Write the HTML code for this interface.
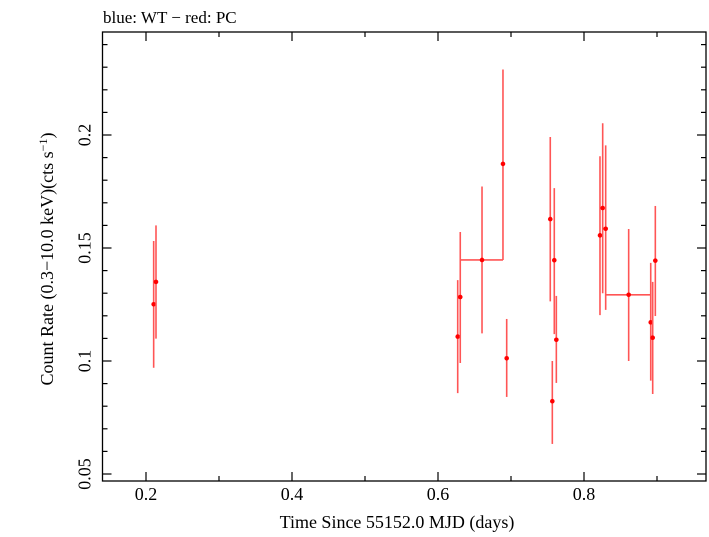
<!DOCTYPE html>
<html><head><meta charset="utf-8"><style>
body{margin:0;background:#fff;width:709px;height:532px;overflow:hidden}
text{font-family:"Liberation Serif",serif;fill:#000}
</style></head><body>
<svg width="709" height="532">
<text x="103" y="23" font-size="17">blue: WT − red: PC</text>
<g id="axes"></g>
<g id="marks"></g>
<text x="397" y="528" font-size="18" text-anchor="middle">Time Since 55152.0 MJD (days)</text>
<text transform="translate(53,259) rotate(-90)" font-size="18" text-anchor="middle">Count Rate (0.3−10.0 keV)(cts s<tspan dy="-6" font-size="12">−1</tspan><tspan dy="6">)</tspan></text>
</svg>
<script>
const times=[0.2105,0.2137,0.627,0.6305,0.6603,0.689,0.6941,0.7538,0.7566,0.7593,0.7621,0.8219,0.8256,0.8297,0.8612,0.8914,0.8941,0.8977];
const rates=[0.1251,0.1350,0.1108,0.1283,0.1447,0.1872,0.1012,0.1628,0.0822,0.1446,0.1094,0.1556,0.1677,0.1585,0.1293,0.1171,0.1103,0.1444];
const rateLo=[0.0970,0.1099,0.0858,0.0991,0.1122,0.1447,0.0841,0.1264,0.0633,0.1119,0.0903,0.1203,0.1300,0.1226,0.1000,0.0913,0.0854,0.1199];
const rateHi=[0.1531,0.1600,0.1358,0.1571,0.1772,0.2290,0.1186,0.1991,0.1000,0.1765,0.1288,0.1906,0.2052,0.1954,0.1584,0.1434,0.1350,0.1686];
const timeLo=[0.2105,0.2137,0.627,0.6305,0.6305,0.689,0.6941,0.7538,0.7566,0.7593,0.7621,0.8219,0.8256,0.8297,0.8297,0.8914,0.8941,0.8977];
const timeHi=[0.2105,0.2137,0.627,0.6305,0.6890,0.689,0.6941,0.7538,0.7566,0.7593,0.7621,0.8219,0.8256,0.8297,0.8914,0.8914,0.8941,0.8977];
const xTicks=[0.2,0.4,0.6,0.8];
const yTicks=[0.05,0.1,0.15,0.2];
const L=102.5,R=706,T=32,B=481;
const X=t=>t*730;
const Y=v=>361-(v-0.1)*2260;
const NS="http://www.w3.org/2000/svg";
function mk(tag,at,parent){const e=document.createElementNS(NS,tag);for(const k in at)e.setAttribute(k,at[k]);parent.appendChild(e);return e;}
const ax=document.getElementById('axes');
const frame=mk('rect',{x:L,y:T,width:R-L,height:B-T,fill:'none',stroke:'#000','stroke-width':1.3},ax);


for(let i=2;i<=9;i++){const t=i/10,x=X(t);if(x<L||x>R)continue;const len=(i%2===0)?9:5;
 mk('line',{x1:x,x2:x,y1:B,y2:B-len,stroke:'#000','stroke-width':1.2},ax);
 mk('line',{x1:x,x2:x,y1:T,y2:T+len,stroke:'#000','stroke-width':1.2},ax);}
xTicks.forEach(t=>{const e=mk('text',{x:X(t),y:B+19,'font-size':18,'text-anchor':'middle'},ax);e.textContent=t.toFixed(1);
 
 });
for(let i=5;i<=25;i++){const v=i/100,y=Y(v);if(y<T||y>B)continue;const len=(i%5===0)?9:5;
 mk('line',{x1:L,x2:L+len,y1:y,y2:y,stroke:'#000','stroke-width':1.2},ax);
 mk('line',{x1:R,x2:R-len,y1:y,y2:y,stroke:'#000','stroke-width':1.2},ax);}
yTicks.forEach(v=>{const y=Y(v);const e=mk('text',{transform:`translate(${L-12},${y}) rotate(-90)`,'font-size':18,'text-anchor':'middle'},ax);e.textContent=String(v);
 
 });
const mg=document.getElementById('marks');
times.forEach((t,i)=>{const g=mk('g',{},mg);
 
 
 mk('line',{x1:X(t),x2:X(t),y1:Y(rateLo[i]),y2:Y(rateHi[i]),stroke:'#f55','stroke-width':1.6},g);
 if(timeHi[i]>timeLo[i])mk('line',{x1:X(timeLo[i]),x2:X(timeHi[i]),y1:Y(rates[i]),y2:Y(rates[i]),stroke:'#f55','stroke-width':1.6},g);
 mk('circle',{cx:X(t),cy:Y(rates[i]),r:2.3,fill:'#f00'},g);});
</script>
</body></html>
